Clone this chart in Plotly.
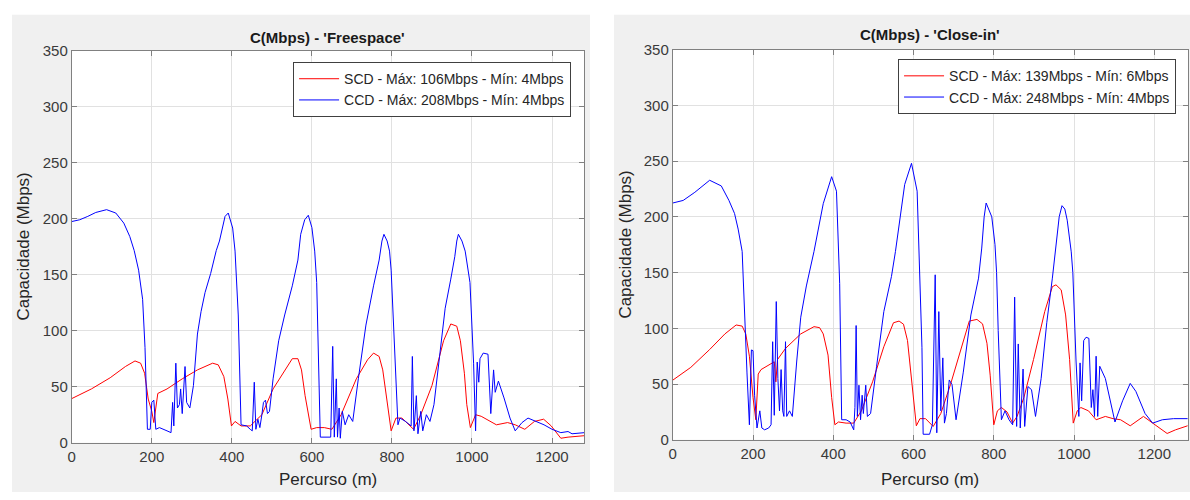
import plotly.graph_objects as go

# ---- data: 'Freespace' panel ----
fs_ccd_x = [0, 20, 40, 60, 87, 110, 130, 145, 156, 167, 177, 183, 189, 196, 200, 205, 210, 219, 238, 248,
            252, 255, 260, 264, 269, 272, 276, 283, 287, 295, 304, 314, 323, 333, 347, 361, 369, 383, 391, 402,
            408, 416, 423, 437, 446, 451, 456, 460, 465, 470, 475, 479, 484, 489, 494, 503, 517, 532, 551, 565,
            572, 582, 591, 600, 607, 612, 621, 635, 647, 652, 656, 661, 664, 668, 671, 676, 683, 692, 702, 716,
            735, 754, 768, 775, 780, 788, 794, 798, 806, 815, 820, 834, 848, 851, 855, 861, 865, 872, 877, 886,
            895, 905, 919, 933, 947, 957, 962, 966, 975, 983, 995, 1004, 1009, 1013, 1017, 1020, 1028, 1040, 1047, 1054,
            1058, 1066, 1080, 1095, 1108, 1125, 1140, 1160, 1180, 1200, 1222, 1240, 1250, 1281]
fs_ccd_y = [197.4, 199, 202, 205.5, 208, 205, 196, 184, 171.5, 154, 128, 85, 12, 12, 36, 38, 12, 13.5, 10.6, 9,
            36, 15, 71, 31, 34, 48, 26, 68, 36, 31, 51, 97, 117, 134, 151, 171.5, 180, 202, 205, 191.6,
            171, 114, 16, 15, 12, 10.6, 54, 12, 21, 13.5, 25, 36, 38, 26, 28, 57, 91, 114, 140, 163,
            186, 199, 203, 192, 171, 143, 5, 5, 5, 86, 5, 57, 5, 31, 4, 28, 16, 25, 19, 57,
            105, 140, 163, 180, 186, 180, 171, 154, 85, 16, 22, 19, 15, 77, 10.6, 42, 8, 28, 10.6, 25,
            19, 34, 77, 120, 146, 166, 180, 186, 180, 171, 143, 71, 10.6, 72, 54, 75, 80, 79, 26, 65,
            45, 55, 40, 22, 10.6, 18, 22, 19, 16, 12, 9, 10, 8, 9]
fs_scd_x = [0, 49, 96, 134, 158, 172, 182, 191, 200, 205, 210, 215, 238, 276, 314, 352, 366, 380, 390, 399,
            408, 423, 446, 475, 503, 532, 551, 565, 574, 583, 598, 612, 631, 650, 673, 711, 739, 754, 768, 777,
            787, 798, 810, 825, 854, 872, 900, 929, 947, 962, 971, 981, 987, 996, 1009, 1023, 1061, 1089, 1108, 1132,
            1156, 1179, 1198, 1222, 1240, 1281]
fs_scd_y = [39.4, 48, 58, 68, 73, 71, 62, 39, 28, 18, 31, 44, 48, 57, 65, 71, 69.5, 59, 39, 15,
            19, 15, 15, 25, 48, 65, 75, 75, 65, 42, 12, 13.5, 13.5, 12, 25, 57, 74, 80, 77, 65,
            39, 10.6, 22, 22, 12, 25, 51, 91, 106, 104, 91, 62, 34, 13.5, 25, 23.6, 16, 18, 16, 12,
            19, 21, 15, 4, 5, 6.3]

# ---- data: 'Close-in' panel ----
ci_ccd_x = [0, 26, 55, 92, 121, 140, 154, 163, 173, 177, 185, 191, 196, 200, 204, 210, 217, 222, 229, 239,
            245, 249, 253, 258, 262, 266, 270, 274, 277, 281, 284, 291, 298, 309, 319, 333, 352, 375, 396, 408,
            413, 416, 421, 432, 442, 451, 454, 457, 460, 464, 468, 472, 475, 481, 485, 493, 508, 526, 545, 555,
            578, 595, 609, 614, 617, 621, 624, 640, 647, 654, 658, 663, 668, 673, 677, 682, 689, 696, 706, 724,
            743, 762, 770, 776, 781, 795, 803, 807, 811, 819, 828, 838, 847, 852, 857, 861, 866, 873, 877, 885,
            894, 904, 918, 932, 946, 956, 963, 970, 977, 983, 993, 997, 1005, 1012, 1015, 1019, 1024, 1030, 1037, 1043,
            1047, 1051, 1055, 1059, 1064, 1078, 1092, 1102, 1121, 1140, 1154, 1177, 1196, 1220, 1248, 1283]
ci_ccd_y = [212.4, 214.7, 222, 232.8, 227.7, 214.7, 203, 189, 169, 129, 60, 13.5, 80.6, 80, 40, 10.6, 26, 10.6, 9, 10.6,
            13.5, 88, 22, 124, 55, 26, 63, 26, 21, 88, 21, 26, 21, 70.7, 110, 138, 169, 211.8, 236, 223,
            168.6, 140, 18, 18, 16, 9, 29, 102.5, 21, 49, 18, 40, 23.6, 49, 21, 23.6, 66, 115, 146.5, 169,
            229, 248, 223, 168.6, 140, 83, 5, 5, 13.5, 148, 6.3, 115, 26, 73.5, 15, 23.6, 53.7, 49.5, 18, 60.7,
            112, 145, 172, 200, 212.4, 200, 175, 150, 98, 18, 26, 18, 13.5, 128, 12, 86, 10.6, 63.5, 12, 47.8,
            45, 21, 55, 105, 145, 180, 200, 210, 207, 197, 168.6, 150, 70.7, 21, 69, 35, 89, 92, 91, 29,
            45, 21, 75, 21, 66, 55, 32, 16, 35, 50.6, 43.5, 23.6, 15, 18, 19, 19]
ci_scd_x = [0, 45, 92, 130, 158, 173, 182, 191, 200, 207, 213, 220, 253, 257, 261, 281, 319, 352, 366, 375,
            387, 396, 404, 413, 432, 451, 470, 498, 526, 550, 564, 575, 585, 594, 602, 607, 616, 630, 649, 668,
            692, 715, 739, 758, 772, 783, 791, 800, 809, 819, 833, 847, 858, 875, 899, 927, 946, 955, 968, 979,
            989, 998, 1008, 1017, 1036, 1055, 1078, 1097, 1116, 1140, 1173, 1196, 1232, 1253, 1283]
ci_scd_y = [53.5, 65, 81, 95, 103, 102, 95, 75, 38, 18, 59, 63, 70, 52, 72, 82, 95, 101.5, 100.6, 95,
            76, 38, 13.5, 16, 15, 15, 26, 52, 83.5, 105, 106.5, 103.7, 89, 55, 26, 12.6, 19, 19, 12, 23.6,
            49.5, 78, 106.5, 108, 104, 86.6, 58, 13.5, 26, 29, 25, 15, 21, 37.8, 72, 115, 137.4, 139, 134.5, 112,
            72, 15, 26, 29, 26, 18, 21, 19, 18, 12.6, 21, 15, 5.7, 9, 12.6]

W, H = 1190, 500
FONT = "Liberation Sans, Arial, sans-serif"
GRAY_BG = "#f0f0f0"


def px(x):
    return x / W


def py(y):
    return 1 - y / H


fig = go.Figure()

fig.add_trace(go.Scatter(x=fs_scd_x, y=fs_scd_y, mode="lines", name="SCD - Máx: 106Mbps - Mín: 4Mbps",
                         line=dict(color="#ff0000", width=1), xaxis="x", yaxis="y", legend="legend"))
fig.add_trace(go.Scatter(x=fs_ccd_x, y=fs_ccd_y, mode="lines", name="CCD - Máx: 208Mbps - Mín: 4Mbps",
                         line=dict(color="#0000ff", width=1), xaxis="x", yaxis="y", legend="legend"))
fig.add_trace(go.Scatter(x=ci_scd_x, y=ci_scd_y, mode="lines", name="SCD - Máx: 139Mbps - Mín: 6Mbps",
                         line=dict(color="#ff0000", width=1), xaxis="x2", yaxis="y2", legend="legend2"))
fig.add_trace(go.Scatter(x=ci_ccd_x, y=ci_ccd_y, mode="lines", name="CCD - Máx: 248Mbps - Mín: 4Mbps",
                         line=dict(color="#0000ff", width=1), xaxis="x2", yaxis="y2", legend="legend2"))

# axes box in pixel positions (left, right, top, bottom)
left_box = (68, 582, 43, 449)
right_box = (671, 1188, 42, 446)

axis_common = dict(showline=True, linecolor="#808080", linewidth=1, mirror="ticks",
                   ticks="inside", ticklen=5, tickcolor="#808080",
                   showgrid=True, gridcolor="#e1e1e1", gridwidth=1, zeroline=False,
                   tickfont=dict(family=FONT, size=15, color="#3a3a3a"))

fig.update_layout(
    autosize=True,
    margin=dict(l=0, r=0, t=0, b=0),
    paper_bgcolor="white", plot_bgcolor="white",
    font=dict(family=FONT, color="#262626"),
    xaxis=dict(domain=[px(left_box[0]), px(left_box[1])], range=[0, 1280], dtick=200, anchor="y", **axis_common),
    yaxis=dict(domain=[py(left_box[3]), py(left_box[2])], range=[0, 350], dtick=50, anchor="x", **axis_common),
    xaxis2=dict(domain=[px(right_box[0]), px(right_box[1])], range=[0, 1284], dtick=200, anchor="y2", **axis_common),
    yaxis2=dict(domain=[py(right_box[3]), py(right_box[2])], range=[0, 350], dtick=50, anchor="x2", **axis_common),
    legend=dict(x=px(569), y=py(55), xanchor="right", yanchor="top", bgcolor="white",
                bordercolor="#404040", borderwidth=1, font=dict(family=FONT, size=14, color="#262626"),
                tracegroupgap=0, itemwidth=40),
    legend2=dict(x=px(1176), y=py(52), xanchor="right", yanchor="top", bgcolor="white",
                 bordercolor="#404040", borderwidth=1, font=dict(family=FONT, size=14, color="#262626"),
                 tracegroupgap=0, itemwidth=40),
    showlegend=True,
)

# MATLAB-like gray figure panels, then white plot areas on top of them
shapes = []
for x0, x1 in [(8, 588), (612, 1190)]:
    shapes.append(dict(type="rect", xref="paper", yref="paper", x0=px(x0), x1=px(x1), y0=py(500), y1=py(6),
                       fillcolor=GRAY_BG, line=dict(width=0), layer="below"))
for b in [left_box, right_box]:
    shapes.append(dict(type="rect", xref="paper", yref="paper", x0=px(b[0]), x1=px(b[1]), y0=py(b[3]), y1=py(b[2]),
                       fillcolor="white", line=dict(width=0), layer="below"))
fig.update_layout(shapes=shapes)

ann = []
titles = [("C(Mbps) - 'Freespace'", left_box, 29), ("C(Mbps) - 'Close-in'", right_box, 26)]
for text, b, ty in titles:
    ann.append(dict(text="<b>" + text + "</b>", x=px((b[0] + b[1]) / 2), y=py(ty), xref="paper", yref="paper",
                    showarrow=False, xanchor="center", yanchor="middle",
                    font=dict(family=FONT, size=15, color="#1a1a1a")))
    ann.append(dict(text="Percurso (m)", x=px((b[0] + b[1]) / 2), y=py(487), xref="paper", yref="paper",
                    showarrow=False, xanchor="center", yanchor="middle",
                    font=dict(family=FONT, size=17, color="#262626")))
for xpos, b in [(20, left_box), (624, right_box)]:
    ann.append(dict(text="Capacidade (Mbps)", x=px(xpos), y=py((b[2] + b[3]) / 2), xref="paper", yref="paper",
                    showarrow=False, textangle=-90, xanchor="center", yanchor="middle",
                    font=dict(family=FONT, size=17, color="#262626")))
fig.update_layout(annotations=ann)

# let the figure fill the window exactly, without the default page margin
page_fix = ("document.body.style.margin='0';"
            "document.body.style.overflow='hidden';"
            "document.documentElement.style.overflow='hidden';"
            "window.dispatchEvent(new Event('resize'));")
fig.write_html("out.html", config={"displayModeBar": False, "responsive": True},
               default_width="100vw", default_height="100vh", post_script=page_fix)
